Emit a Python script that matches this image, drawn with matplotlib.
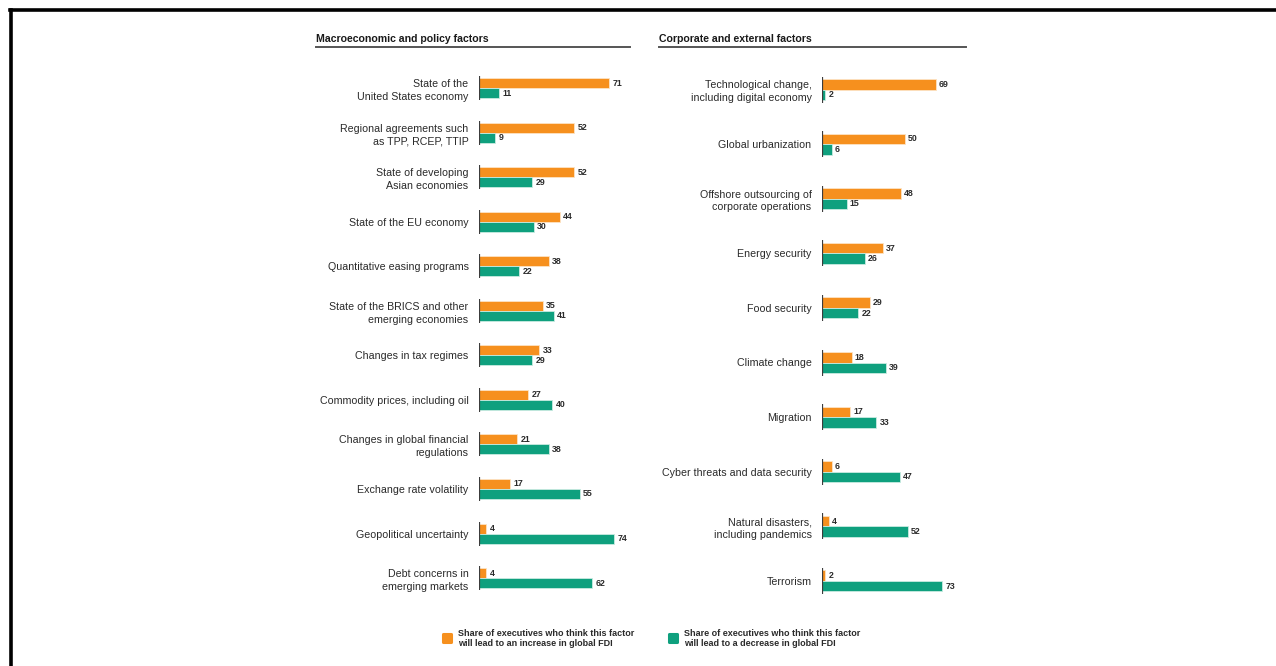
import matplotlib
matplotlib.use("Agg")
import matplotlib.pyplot as plt
from matplotlib.lines import Line2D
from matplotlib.markers import MarkerStyle
import numpy as np

plt.rcParams["font.family"] = ["Liberation Sans", "DejaVu Sans"]

# ---- data -------------------------------------------------------------
macro_factors = [
    "State of the\nUnited States economy",
    "Regional agreements such\nas TPP, RCEP, TTIP",
    "State of developing\nAsian economies",
    "State of the EU economy",
    "Quantitative easing programs",
    "State of the BRICS and other\nemerging economies",
    "Changes in tax regimes",
    "Commodity prices, including oil",
    "Changes in global financial\nregulations",
    "Exchange rate volatility",
    "Geopolitical uncertainty",
    "Debt concerns in\nemerging markets",
]
macro_increase = [71, 52, 52, 44, 38, 35, 33, 27, 21, 17, 4, 4]
macro_decrease = [11, 9, 29, 30, 22, 41, 29, 40, 38, 55, 74, 62]

corp_factors = [
    "Technological change,\nincluding digital economy",
    "Global urbanization",
    "Offshore outsourcing of\ncorporate operations",
    "Energy security",
    "Food security",
    "Climate change",
    "Migration",
    "Cyber threats and data security",
    "Natural disasters,\nincluding pandemics",
    "Terrorism",
]
corp_increase = [69, 50, 48, 37, 29, 18, 17, 6, 4, 2]
corp_decrease = [2, 6, 15, 26, 22, 39, 33, 47, 52, 73]

panel_titles = ["Macroeconomic and policy factors", "Corporate and external factors"]
legend_labels = [
    "Share of executives who think this factor\nwill lead to an increase in global FDI",
    "Share of executives who think this factor\nwill lead to a decrease in global FDI",
]

ORANGE = "#F6901E"
GREEN = "#0FA07E"
TEXT = "#2a2a2a"

W, H = 1276, 666
fig = plt.figure(figsize=(W / 100, H / 100), dpi=100)


def px_axes(x0, y_top, w, h):
    """Axes placed by pixel box (top-left origin)."""
    return fig.add_axes([x0 / W, 1 - (y_top + h) / H, w / W, h / H])


def draw_panel(ax, labels, inc, dec, bar_h, axis_half):
    n = len(labels)
    y = np.arange(n)
    ax.barh(y - bar_h / 2, inc, height=bar_h, color=ORANGE, edgecolor="#fde3c4", linewidth=0.6)
    ax.barh(y + bar_h / 2, dec, height=bar_h, color=GREEN, edgecolor="#c9ebe1", linewidth=0.6)
    ax.vlines(np.zeros(n), y - axis_half, y + axis_half, color="#3c3c3c", linewidth=1.6)
    for yi, a, b in zip(y, inc, dec):
        ax.text(a + 1.8, yi - bar_h / 2, str(a), va="center", ha="left",
                fontsize=6.3, fontweight="bold", color=TEXT)
        ax.text(b + 1.8, yi + bar_h / 2, str(b), va="center", ha="left",
                fontsize=6.3, fontweight="bold", color=TEXT)
    ax.set_yticks(y)
    ax.set_yticklabels(labels, fontsize=7.7, color=TEXT, linespacing=1.35)
    ax.tick_params(axis="y", length=0, pad=7.5)
    ax.set_xticks([])
    ax.set_xlim(0, 80)
    ax.set_ylim(n - 0.5, -0.5)
    for s in ax.spines.values():
        s.set_visible(False)
    ax.patch.set_alpha(0)


# left panel: axis at x=479, 1.83 px per unit, rows 44.5 px apart from y=88
left_step = 44.55
ax1 = px_axes(479, 88 - left_step / 2, 80 * 1.83, left_step * len(macro_factors))
draw_panel(ax1, macro_factors, macro_increase, macro_decrease, 10 / left_step, 12 / left_step)

# right panel: axis at x=822, 1.65 px per unit, rows 54.6 px apart from y=89
right_step = 54.6
ax2 = px_axes(822, 89.5 - right_step / 2, 80 * 1.65, right_step * len(corp_factors))
draw_panel(ax2, corp_factors, corp_increase, corp_decrease, 10.5 / right_step, 13 / right_step)

# panel titles with underline
for x0, x1, t in [(316, 630, panel_titles[0]), (659, 966, panel_titles[1])]:
    fig.text(x0 / W, 1 - 38.5 / H, t, fontsize=7.6, fontweight="bold", color="#1a1a1a",
             va="center", ha="left")
    fig.add_artist(Line2D([x0 / W, x1 / W], [1 - 47 / H, 1 - 47 / H],
                          color="#555555", linewidth=1.4))

# frame lines (top and left)
fig.add_artist(Line2D([10 / W, 1], [1 - 9.5 / H, 1 - 9.5 / H], color="black", linewidth=2.6))
fig.add_artist(Line2D([10.5 / W, 10.5 / W], [0, 1 - 9.5 / H], color="black", linewidth=2.6))

# legend (rounded square swatches)
rounded = MarkerStyle("s", joinstyle="round")
handles = [
    Line2D([], [], linestyle="none", marker=rounded, markersize=5.5,
           markeredgewidth=2.2, color=ORANGE),
    Line2D([], [], linestyle="none", marker=rounded, markersize=5.5,
           markeredgewidth=2.2, color=GREEN),
]
leg = fig.legend(handles, legend_labels, ncol=2, frameon=False,
                 loc="upper left", bbox_to_anchor=(439 / W, 1 - 625 / H),
                 fontsize=6.5, handlelength=0.9, handletextpad=0.8, columnspacing=3.85,
                 borderaxespad=0, labelspacing=0)
for txt in leg.get_texts():
    txt.set_color(TEXT)
    txt.set_fontweight("bold")
    txt.set_linespacing(1.15)

fig.savefig("out.png", dpi=100, facecolor="white")
